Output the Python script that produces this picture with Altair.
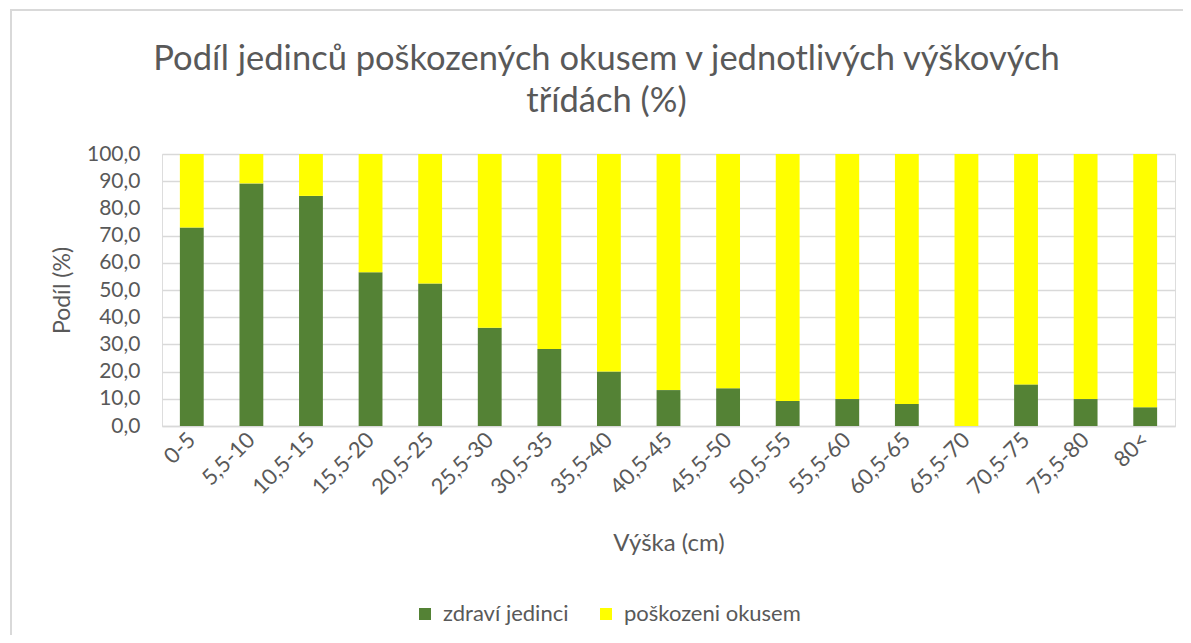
import altair as alt
import pandas as pd

categories = ["0-5", "5,5-10", "10,5-15", "15,5-20", "20,5-25", "25,5-30", "30,5-35",
              "35,5-40", "40,5-45", "45,5-50", "50,5-55", "55,5-60", "60,5-65",
              "65,5-70", "70,5-75", "75,5-80", "80<"]
zdravi = [73.0, 89.2, 84.6, 56.5, 52.4, 36.1, 28.3, 20.0, 13.2, 13.9, 9.2, 9.9, 8.1, 0.0, 15.3, 9.9, 6.9]
poskozeni = [27.0, 10.8, 15.4, 43.5, 47.6, 63.9, 71.7, 80.0, 86.8, 86.1, 90.8, 90.1, 91.9, 100.0, 84.7, 90.1, 93.1]
series = ["zdraví jedinci", "poškozeni okusem"]
colors = ["#548235", "#FFFF00"]

rows = []
for i, c in enumerate(categories):
    rows.append({"cat": c, "serie": series[0], "val": zdravi[i], "ord": 0})
    rows.append({"cat": c, "serie": series[1], "val": poskozeni[i], "ord": 1})
df = pd.DataFrame(rows)

FONT = "Lato"
GREY = "#595959"

bars = alt.Chart(df).mark_bar().encode(
    x=alt.X("cat:N", sort=categories,
            scale=alt.Scale(paddingInner=0.6, paddingOuter=0.3),
            axis=alt.Axis(title="Výška (cm)", labelAngle=-45, labelAlign="right",
                          labelBaseline="middle", labelPadding=10, ticks=False,
                          domainColor="#d9d9d9", domainWidth=1.5,
                          labelFontSize=22, labelColor=GREY, labelFont=FONT,
                          titleFontSize=24, titleColor=GREY, titleFont=FONT,
                          titleFontWeight="normal", titlePadding=33)),
    y=alt.Y("val:Q", stack="zero",
            scale=alt.Scale(domain=[0, 100], nice=False),
            axis=alt.Axis(title="Podíl (%)", values=list(range(0, 101, 10)),
                          labelExpr="replace(format(datum.value, '.1f'), '.', ',')",
                          domain=False, ticks=False, labelPadding=22,
                          gridColor="#d9d9d9", gridWidth=1.5,
                          labelFontSize=21, labelColor=GREY, labelFont=FONT,
                          titleFontSize=23, titleColor=GREY, titleFont=FONT,
                          titleFontWeight="normal", titlePadding=12)),
    color=alt.Color("serie:N", scale=alt.Scale(domain=series, range=colors),
                    legend=alt.Legend(title=None, orient="none", direction="horizontal",
                                      legendX=252, legendY=449,
                                      symbolType="square", symbolSize=144,
                                      symbolStrokeWidth=0, labelLimit=400,
                                      labelFontSize=22, labelColor=GREY, labelFont=FONT,
                                      labelOffset=7, columnPadding=26)),
    order=alt.Order("ord:Q"),
)

border = alt.Chart(alt.Data(values=[{"a": 1}])).mark_rect(
    fill=None, stroke="#d9d9d9", strokeWidth=2
).encode(
    x=alt.value(-151), x2=alt.value(1200), y=alt.value(-144), y2=alt.value(700)
)

chart = alt.layer(border, bars).properties(
    width=1013, height=272,
    autosize=alt.AutoSizeParams(type="none"),
    padding={"left": 154, "top": 146, "right": 8, "bottom": 209},
    title=alt.Title(["Podíl jedinců poškozených okusem v jednotlivých výškových", "třídách (%)"],
                    fontSize=34.5, color=GREY, font=FONT, fontWeight="normal",
                    lineHeight=42, anchor="middle", dx=-62, offset=-110),
).configure_view(stroke=None).configure(background="white")

chart.save("out.html", embed_options={"renderer": "svg", "actions": False})
